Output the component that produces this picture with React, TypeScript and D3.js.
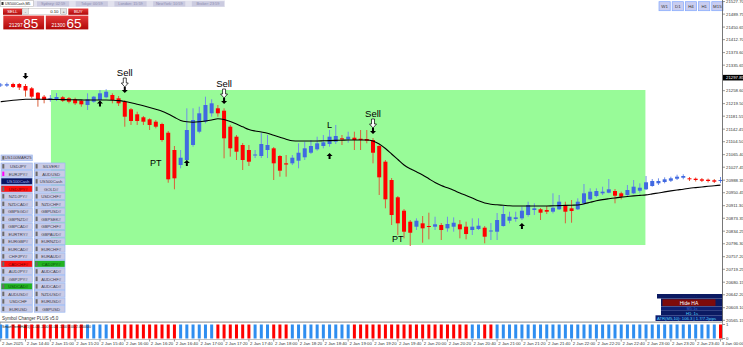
import React from 'react';
import * as d3 from 'd3';

// ---------- DATA ----------
// bars from 2 Jan 14:20 (index -4) to 3 Jan 00:00 (index 112), M5
const opens = [21274.2,21274.0,21278.7,21278.7,21272.7,21265.7,21252.4,21240.4,21230.4,21231.9,21238.6,21235.5,21232.5,21228.3,21215.3,21225.3,21230.4,21238.6,21245.5,21235.5,21225.3,21202.3,21187.2,21178.2,21172.1,21164.9,21157.9,21131.6,21079.4,21034.1,21049.2,21094.5,21134.7,21164.9,21190.2,21205.3,21198.1,21149.8,21119.6,21094.5,21079.4,21062.8,21061.3,21079.4,21084.5,21061.3,21039.2,21039.2,21047.1,21057.4,21071.2,21081.5,21091.5,21097.5,21104.5,21114.7,21111.7,21116.5,21113.5,21112.6,21109.6,21091.5,21044.1,20988.8,20936.6,20896.1,20862.9,20847.8,20858.0,20849.9,20847.8,20852.9,20842.9,20847.8,20855.0,20847.8,20837.8,20840.8,20844.8,20833.3,20832.7,20849.9,20865.9,20871.0,20873.1,20883.1,20898.2,20900.3,20898.2,20893.1,20900.3,20910.3,20903.3,20900.3,20918.4,20930.5,20940.5,20948.6,20950.4,20955.6,20948.6,20943.5,20948.6,20956.5,20960.7,20970.7,20978.8,20982.8,20986.7,20992.7,20995.7,20993.9,20992.7,20990.9,20989.7,20987.9,20985.8];
const highs = [21281.7,21283.0,21282.6,21281.7,21278.7,21269.7,21254.6,21245.5,21245.5,21251.5,21242.5,21239.5,21237.3,21230.4,21250.6,21242.5,21260.6,21262.7,21250.6,21242.5,21230.4,21206.2,21195.1,21182.1,21175.1,21170.0,21161.8,21136.8,21091.5,21079.4,21205.3,21205.3,21210.2,21240.4,21232.5,21215.3,21205.3,21155.0,21124.7,21100.5,21094.5,21079.4,21130.7,21124.7,21088.5,21064.3,21064.3,21064.3,21099.6,21104.5,21109.6,21119.6,21124.7,21139.8,21155.0,21124.7,21134.7,21134.7,21139.8,21139.8,21115.6,21094.5,21049.2,20994.8,20940.5,20901.2,20868.0,20873.1,20880.1,20890.1,20877.9,20858.9,20877.9,20876.0,20868.0,20862.9,20873.1,20873.1,20849.9,20858.9,20889.1,20910.3,20893.1,20893.1,20908.2,20923.3,20918.4,20904.2,20910.3,20948.6,20943.5,20923.3,20928.4,20933.5,20976.7,20963.7,20963.7,20968.6,20991.8,20961.6,20953.5,20973.7,20988.8,20978.8,21000.9,20991.8,20993.9,20996.9,20998.8,21004.8,21006.0,20997.9,20996.4,20994.8,20993.3,20991.8,20997.9];
const lows = [21269.7,21270.0,21266.6,21260.6,21240.4,21235.5,21210.2,21220.4,21225.3,21227.4,21224.4,21220.4,21215.3,21210.2,21200.2,21222.2,21222.2,21235.5,21220.4,21212.3,21149.8,21155.0,21155.0,21155.0,21139.8,21144.9,21104.5,20980.6,20960.7,21024.1,21039.2,21089.4,21129.8,21160.0,21180.0,21180.0,21054.3,21059.2,21049.2,21019.0,21031.1,21055.2,21055.2,21055.2,20988.8,20998.8,20998.8,21034.1,21024.1,21049.2,21067.3,21077.3,21084.5,21089.4,21097.5,21094.5,21101.4,21079.4,21079.4,21099.6,21039.2,20943.5,20903.3,20852.9,20822.7,20812.7,20789.5,20837.8,20799.4,20809.7,20837.8,20807.6,20832.7,20832.7,20812.7,20809.7,20822.7,20837.8,20797.6,20807.6,20807.6,20847.8,20858.0,20862.9,20868.0,20878.0,20883.1,20868.0,20886.1,20888.2,20898.2,20858.0,20859.8,20898.2,20913.3,20928.4,20936.6,20943.5,20948.6,20918.4,20930.5,20940.5,20946.5,20950.4,20958.6,20968.6,20973.7,20978.8,20982.8,20988.8,20990.9,20985.8,20984.3,20982.8,20981.3,20979.7,20979.7];
const closes = [21277.2,21278.0,21269.7,21268.1,21259.1,21240.4,21232.5,21230.4,21235.5,21239.5,21228.3,21225.3,21220.4,21217.4,21232.5,21240.4,21250.6,21255.5,21230.4,21220.4,21180.0,21167.0,21167.0,21164.9,21155.0,21149.8,21109.6,20990.9,20993.9,21056.1,21139.8,21170.0,21190.2,21215.3,21220.4,21190.2,21114.7,21084.5,21074.3,21049.2,21044.1,21065.8,21097.5,21094.5,21039.2,21016.9,21035.6,21056.1,21071.2,21084.5,21091.5,21099.6,21102.6,21119.6,21121.7,21111.1,21119.6,21109.6,21109.6,21107.5,21071.2,20996.9,20930.5,20883.1,20858.0,20832.7,20829.6,20865.9,20842.9,20846.9,20855.0,20837.8,20855.9,20859.8,20839.9,20825.7,20847.8,20850.8,20817.6,20836.3,20868.0,20886.1,20877.9,20876.0,20896.1,20913.3,20903.3,20890.1,20893.1,20905.1,20923.3,20893.1,20895.2,20923.3,20948.6,20953.5,20955.6,20953.5,20960.7,20941.4,20938.4,20958.6,20968.6,20965.5,20981.9,20985.8,20985.8,20990.9,20993.9,20998.8,21000.9,20990.9,20988.8,20986.7,20985.8,20983.7,20988.8];
const maValues = [21225.3,21227.4,21229.5,21231.3,21232.5,21232.8,21232.8,21232.5,21232.2,21231.9,21231.6,21231.3,21231.0,21230.7,21230.4,21230.4,21230.4,21230.4,21229.8,21228.6,21225.9,21222.2,21217.7,21212.9,21207.7,21202.3,21196.6,21188.1,21178.2,21168.5,21164.6,21163.4,21164.6,21167.0,21170.0,21173.6,21171.5,21165.5,21157.9,21149.5,21141.3,21136.8,21133.8,21130.1,21123.8,21117.8,21112.0,21107.2,21106.6,21106.6,21106.6,21106.6,21107.2,21107.8,21108.4,21109.0,21109.6,21109.6,21109.6,21109.6,21106.6,21097.5,21083.9,21067.3,21050.7,21034.1,21022.6,21013.6,21003.9,20992.4,20981.2,20972.2,20965.2,20957.7,20949.5,20942.0,20934.4,20926.0,20919.3,20915.7,20913.9,20912.4,20910.9,20910.3,20910.3,20910.3,20910.3,20910.3,20910.3,20910.9,20911.5,20912.1,20912.7,20913.3,20916.9,20921.5,20926.0,20929.6,20932.3,20934.7,20937.2,20939.0,20940.8,20942.3,20943.8,20946.8,20949.8,20952.9,20955.9,20958.6,20961.0,20964.0,20965.8,20967.7,20969.8,20971.6,20973.4];
const trendUp = [1,1,0,0, 0,0,0,0,0,0,0,0,0,0, 1,1,1,1, 0,0,0,0,0,0,0,0,0,0,0, 1,1,1,1,1,1, 0,0,0,0,0,0, 1,1,1, 0,0,0, 1,1,1,1,1,1,1,1,1,1, 0,0,0,0,0,0,0,0,0,0,0,0,0,0,0,0,0,0,0, 1,1, 0,0, 1,1,1,1,1,1,1,1,1,1,1,1,1,1,1,1,1,1,1,1,1,1,1,1,1,1,1,1,1,1,1,1,1,1,1,1, 0];
const firstBar = -4;

const timeLabels = ["2 Jan 2025","2 Jan 14:40","2 Jan 15:00","2 Jan 15:20","2 Jan 15:40","2 Jan 16:00","2 Jan 16:20","2 Jan 16:40","2 Jan 17:00","2 Jan 17:20","2 Jan 17:40","2 Jan 18:00","2 Jan 18:20","2 Jan 18:40","2 Jan 19:00","2 Jan 19:20","2 Jan 19:40","2 Jan 20:00","2 Jan 20:20","2 Jan 20:40","2 Jan 21:00","2 Jan 21:20","2 Jan 21:40","2 Jan 22:00","2 Jan 22:20","2 Jan 22:40","2 Jan 23:00","2 Jan 23:20","2 Jan 23:40","3 Jan 00:00"];
const timeLabelBars = [-4,0,4,8,12,16,20,24,28,32,36,40,44,48,52,56,60,64,68,72,76,80,84,88,92,96,100,104,108,112];
const priceTicks = [21527.70,21489.75,21450.65,21412.70,21373.60,21335.65,21258.60,21219.50,21181.55,21142.45,21104.50,21065.40,21027.45,20988.35,20950.45,20911.30,20873.35,20834.25,20796.30,20757.20,20719.25,20680.15,20642.20,20603.10,20565.15];
const currentPrice = 21297.85;

// zone (green box)
const zoneBars = [4.1, 99.9];
const zonePrices = [21260.6, 20792.5];

// signals
const sellBars = [16, 32, 56];
const downArrowBars = [0, 16, 32, 56];
const downArrowTips = [21293.8, 21251.5, 21218.3, 21127.7];
const upArrowBars = [12, 26, 49, 80];
const upArrowTips = [21228.9, 21049.2, 21070.3, 20858.9];
const ptBars = [21, 60];
const ptPrices = [21040.0, 20812.0];
const lBars = [49];
const lPrices = [21157.9];

// UI texts
const sessions = ["Sydney: 02:59","Tokyo: 00:59","London: 15:59","NewYork: 10:59","Broker: 23:59"];
const timeframes = ["W1","D1","H4","H1","M15"];
const symbolsLeft = ["USDJPY","EURJPY#","US100Cash","USDJPY#","NZDJPY#","NZDCAD#","GBPSGD#","GBPNZD#","GBPCAD#","EURTRY#","EURGBP#","EURCAD#","CHFJPY#","CADCHF#","AUDJPY#","GBPJPY#","USDCAD#","AUDUSD#","USDCHF","EURUSD"];
const symbolsRight = ["SILVER#","AUDUSD","US500Cash","GOLD#","USDCHF#","NZDCHF#","GBPUSD#","GBPSEK#","GBPCHF#","GBPAUD#","EURNZD#","EURCHF#","EURAUD#","CADJPY#","AUDCAD#","AUDCHF#","AUDCAD#","NZDUSD#","EURUSD#","GBPUSD"];
const stateLeft = ["","mag","navy","red","","","","","","","","","","red","","","green","","",""];
const stateRight = ["","","","","","","","","","","","","","green","","","","","",""];

const FONT = "'Liberation Sans', Arial, sans-serif";

function upArrowPath(cx: number, ty: number) {
  return `M${cx},${ty} L${cx + 3},${ty + 3} L${cx + 1},${ty + 3} L${cx + 1},${ty + 6} L${cx - 1},${ty + 6} L${cx - 1},${ty + 3} L${cx - 3},${ty + 3} Z`;
}
function downArrowPath(cx: number, by: number) {
  return `M${cx},${by} L${cx + 3},${by - 3} L${cx + 1},${by - 3} L${cx + 1},${by - 6} L${cx - 1},${by - 6} L${cx - 1},${by - 3} L${cx - 3},${by - 3} Z`;
}
function hollowDown(cx: number, top: number) {
  return `M${cx - 1.5},${top} L${cx + 1.5},${top} L${cx + 1.5},${top + 5} L${cx + 3.5},${top + 5} L${cx},${top + 9} L${cx - 3.5},${top + 5} L${cx - 1.5},${top + 5} Z`;
}

export default function App() {
  const xs = d3.scaleLinear().domain([0, 112]).range([25.5, 720.5]);
  const ys = d3.scaleLinear().domain([20565.15, 21527.7]).range([320.3, 1.55]);
  const yInd = d3.scaleLinear().domain([0, 1]).range([338.5, 324.5]);

  const bars = opens.map((o, k) => ({
    i: k + firstBar, o, h: highs[k], l: lows[k], c: closes[k], up: closes[k] >= o,
  }));
  const maPath = d3.line<number>()
    .x((_, k) => xs(k + firstBar))
    .y(v => ys(v))
    .curve(d3.curveMonotoneX)(maValues) || '';

  const sessScale = d3.scaleBand().domain(sessions).range([37, 224]).paddingInner(0.17);
  const tfScale = d3.scaleBand().domain(timeframes).range([659, 723]).paddingInner(0.15);
  const rowScale = d3.scaleBand().domain(symbolsLeft.map((_, k) => String(k))).range([163, 311.6]).paddingInner(0.2);

  const btnFill = (s: string) => s === 'navy' ? '#0a1560' : s === 'red' ? '#ff1010' : s === 'green' ? '#22b422' : '#c9cbe6';
  const btnText = (s: string) => s === 'navy' ? '#aab4ee' : s === 'red' ? '#700000' : s === 'green' ? '#0d4d0d' : '#3a3a4a';

  const renderBtn = (label: string, state: string, x0: number, y0: number, w: number, h: number, key: string) => (
    <g key={key}>
      <rect x={x0} y={y0} width={w} height={h} fill={btnFill(state)} stroke="#9ab8f2" strokeWidth={0.7} />
      {state !== 'navy' && <rect x={x0 + 1.3} y={y0 + 1.1} width={2} height={h - 2.2} fill={state === 'mag' ? '#ff00ff' : '#6a6a6a'} />}
      <text x={x0 + w / 2 + 1.5} y={y0 + h - 1.4} fontSize={4.2} textAnchor="middle" fill={btnText(state)}>{label}</text>
    </g>
  );

  return (
    <svg width={743} height={347} style={{ position: 'absolute', left: 0, top: 0, background: '#fff' }} fontFamily={FONT}>
      <defs>
        <clipPath id="main">
          <rect x={0} y={0} width={722.5} height={322} />
        </clipPath>
        <linearGradient id="redg" x1="0" y1="0" x2="0" y2="1">
          <stop offset="0" stopColor="#e53a3a" />
          <stop offset="1" stopColor="#b00808" />
        </linearGradient>
      </defs>
      <rect x={0} y={0} width={743} height={347} fill="#fff" />

      {/* main chart */}
      <g clipPath="url(#main)">
        <rect x={xs(zoneBars[0])} y={ys(zonePrices[0])} width={xs(zoneBars[1]) - xs(zoneBars[0])} height={ys(zonePrices[1]) - ys(zonePrices[0])} fill="#98fb98" />
        {bars.map(b => {
          const cx = xs(b.i);
          const top = ys(Math.max(b.o, b.c));
          const bot = ys(Math.min(b.o, b.c));
          const hgt = Math.max(1, bot - top);
          return (
            <g key={b.i}>
              <line x1={cx} x2={cx} y1={ys(b.h)} y2={ys(b.l)} stroke={b.up ? '#6f8fe8' : '#d9603c'} strokeWidth={1} />
              <rect x={cx - 2} y={hgt === 1 ? (top + bot) / 2 - 0.5 : top} width={4} height={hgt} fill={b.up ? '#4169e1' : '#ff0000'} />
            </g>
          );
        })}
        <path d={maPath} fill="none" stroke="#000" strokeWidth={1.1} />

        {/* signals */}
        {downArrowBars.map((b, k) => (
          <path key={'da' + k} d={downArrowPath(xs(b), ys(downArrowTips[k]))} fill="#000" />
        ))}
        {upArrowBars.map((b, k) => (
          <path key={'ua' + k} d={upArrowPath(xs(b), ys(upArrowTips[k]))} fill="#000" />
        ))}
        {sellBars.map((b, k) => {
          const tip = ys(downArrowTips[downArrowBars.indexOf(b)]);
          return (
            <g key={'s' + k}>
              <path d={hollowDown(xs(b), tip - 15)} fill="#fff" stroke="#000" strokeWidth={0.7} />
              <text x={xs(b)} y={tip - 17} fontSize={9.5} textAnchor="middle" fill="#000">Sell</text>
            </g>
          );
        })}
        {ptBars.map((b, k) => (
          <text key={'pt' + k} x={xs(b)} y={ys(ptPrices[k]) + 3.3} fontSize={9} textAnchor="middle" fill="#000">PT</text>
        ))}
        {lBars.map((b, k) => (
          <text key={'l' + k} x={xs(b)} y={ys(lPrices[k]) + 3.5} fontSize={9} textAnchor="middle" fill="#000">L</text>
        ))}
        <text x={2} y={320} fontSize={4.5} fill="#333">Symbol Changer PLUS v5.0</text>
      </g>

      {/* header */}
      <rect x={33} y={0.5} width={192} height={6.5} fill="#e2e2ee" />
      <rect x={0.5} y={0.5} width={33} height={6} fill="#fff" stroke="#aaa" strokeWidth={0.5} />
      <rect x={1.5} y={2} width={2} height={3} fill="#333" />
      <text x={5} y={5.3} fontSize={3.6} fill="#222">US500Cash,M5</text>
      {sessions.map(s => (
        <g key={s}>
          <rect x={sessScale(s)} y={1.3} width={sessScale.bandwidth()} height={5.2} fill="#cbcbe0" />
          <text x={(sessScale(s) || 0) + sessScale.bandwidth() / 2} y={5.3} fontSize={3.8} textAnchor="middle" fill="#8c8cb0">{s}</text>
        </g>
      ))}

      {/* trade panel */}
      <rect x={3} y={8.5} width={19} height={6.3} fill="url(#redg)" />
      <text x={12.5} y={13.2} fontSize={4.3} textAnchor="middle" fill="#fff">SELL</text>
      <rect x={22.7} y={8.7} width={5.6} height={5.8} fill="#e4e4e4" stroke="#999" strokeWidth={0.4} />
      <text x={25.5} y={13} fontSize={4} textAnchor="middle" fill="#333">-</text>
      <rect x={28.3} y={8.7} width={32.4} height={5.8} fill="#fff" stroke="#aaa" strokeWidth={0.4} />
      <text x={58.5} y={13.2} fontSize={4.3} textAnchor="end" fill="#222">0.10</text>
      <rect x={60.8} y={8.7} width={5.9} height={5.8} fill="#e4e4e4" stroke="#999" strokeWidth={0.4} />
      <text x={63.7} y={13} fontSize={4} textAnchor="middle" fill="#333">+</text>
      <rect x={68.3} y={8.5} width={20} height={6.3} fill="url(#redg)" />
      <text x={78.3} y={13.2} fontSize={4.3} textAnchor="middle" fill="#fff">BUY</text>
      <rect x={3.3} y={15.6} width={40.8} height={13.8} fill="url(#redg)" />
      <rect x={45.8} y={15.6} width={42.5} height={13.8} fill="url(#redg)" />
      <text x={9} y={26.6} fontSize={5} fill="#fff">21297</text>
      <text x={23.3} y={28.3} fontSize={13.5} fill="#fff">85</text>
      <text x={51.5} y={26.6} fontSize={5} fill="#fff">21300</text>
      <text x={66.5} y={28.3} fontSize={13.5} fill="#fff">65</text>

      {/* timeframe buttons */}
      {timeframes.map(t => (
        <g key={t}>
          <rect x={tfScale(t)} y={1.7} width={tfScale.bandwidth()} height={9} fill="#c9cdf0" stroke="#7fa6ff" strokeWidth={0.7} />
          <text x={(tfScale(t) || 0) + tfScale.bandwidth() / 2} y={7.8} fontSize={4.4} textAnchor="middle" fill="#333">{t}</text>
        </g>
      ))}

      {/* symbol changer buttons */}
      {renderBtn('US100MAR25', '', 1, 155, 31.3, 5.7, 'first')}
      {symbolsLeft.map((s, k) => renderBtn(s, stateLeft[k], 1, rowScale(String(k)) || 0, 31.3, rowScale.bandwidth() + 0.6, 'l' + k))}
      {symbolsRight.map((s, k) => renderBtn(s, stateRight[k], 34.3, rowScale(String(k)) || 0, 30.7, rowScale.bandwidth() + 0.6, 'r' + k))}

      {/* info panel bottom right */}
      <rect x={657} y={294} width={65.5} height={4.5} fill="#0b1a62" />
      <text x={690} y={297.5} fontSize={3.2} textAnchor="middle" fill="#3350b0">· · · · · · · ·</text>
      <rect x={661} y={298.5} width={61.5} height={8} fill="#0b1a62" />
      <rect x={662.5} y={299.3} width={53} height={6.6} fill="#7d0b0b" />
      <text x={689} y={304.5} fontSize={5} textAnchor="middle" fill="#fff">Hide HA</text>
      <rect x={661} y={306.5} width={61.5} height={4.3} fill="#0d1f70" />
      <text x={692} y={310} fontSize={3.5} textAnchor="middle" fill="#3a6ad0">M5: 1s</text>
      <rect x={661} y={310.8} width={61.5} height={4.5} fill="#0b1a62" />
      <text x={692} y={314.5} fontSize={4.2} textAnchor="middle" fill="#4fd0ff">H1: 1s</text>
      <rect x={655.5} y={315.3} width={67} height={5.7} fill="#0d1f70" />
      <text x={657} y={319.8} fontSize={4.2} fill="#4fd0ff">ATR(M5,10): 106.3 | 1.7/7.2pips</text>

      {/* price axis */}
      <line x1={722.5} x2={722.5} y1={0} y2={339.5} stroke="#555" strokeWidth={0.8} />
      {priceTicks.map(p => (
        <g key={p}>
          <line x1={722.5} x2={725} y1={ys(p)} y2={ys(p)} stroke="#555" strokeWidth={0.6} />
          <text x={726} y={ys(p) + 1.5} fontSize={4.3} fill="#333">{p.toFixed(2)}</text>
        </g>
      ))}
      <rect x={723} y={ys(currentPrice) - 2.8} width={20} height={5.6} fill="#000" />
      <text x={726} y={ys(currentPrice) + 1.5} fontSize={4.3} fill="#fff">{currentPrice.toFixed(2)}</text>

      {/* indicator panel */}
      <line x1={0} x2={722.5} y1={322} y2={322} stroke="#888" strokeWidth={0.8} />
      <rect x={0.5} y={322.5} width={722} height={17} fill="#fff" stroke="#999" strokeWidth={0.6} />
      {trendUp.map((v, k) => (
        <rect key={'ind' + k} x={xs(k + firstBar) - 1.5} y={yInd(1)} width={3} height={yInd(0) - yInd(1)} fill={v ? '#2f8ef0' : '#ff0000'} />
      ))}
      <text x={2} y={327.8} fontSize={3.6} fill="#222">SmartTrendHA(5) -1.00 -1.00 -1.00 -1.00 2.00 2.000000</text>
      <line x1={722.5} x2={725} y1={yInd(1)} y2={yInd(1)} stroke="#555" strokeWidth={0.6} />
      <line x1={722.5} x2={725} y1={yInd(0)} y2={yInd(0)} stroke="#555" strokeWidth={0.6} />
      <text x={726} y={yInd(1) + 1.5} fontSize={4.3} fill="#333">1</text>
      <text x={726} y={yInd(0) + 1.5} fontSize={4.3} fill="#333">0</text>

      {/* time axis */}
      {timeLabels.map((t, k) => (
        <g key={t}>
          <line x1={xs(timeLabelBars[k])} x2={xs(timeLabelBars[k])} y1={339.5} y2={341.5} stroke="#555" strokeWidth={0.6} />
          <text x={xs(timeLabelBars[k]) + 1.2} y={344.8} fontSize={4.3} fill="#333">{t}</text>
        </g>
      ))}
    </svg>
  );
}
